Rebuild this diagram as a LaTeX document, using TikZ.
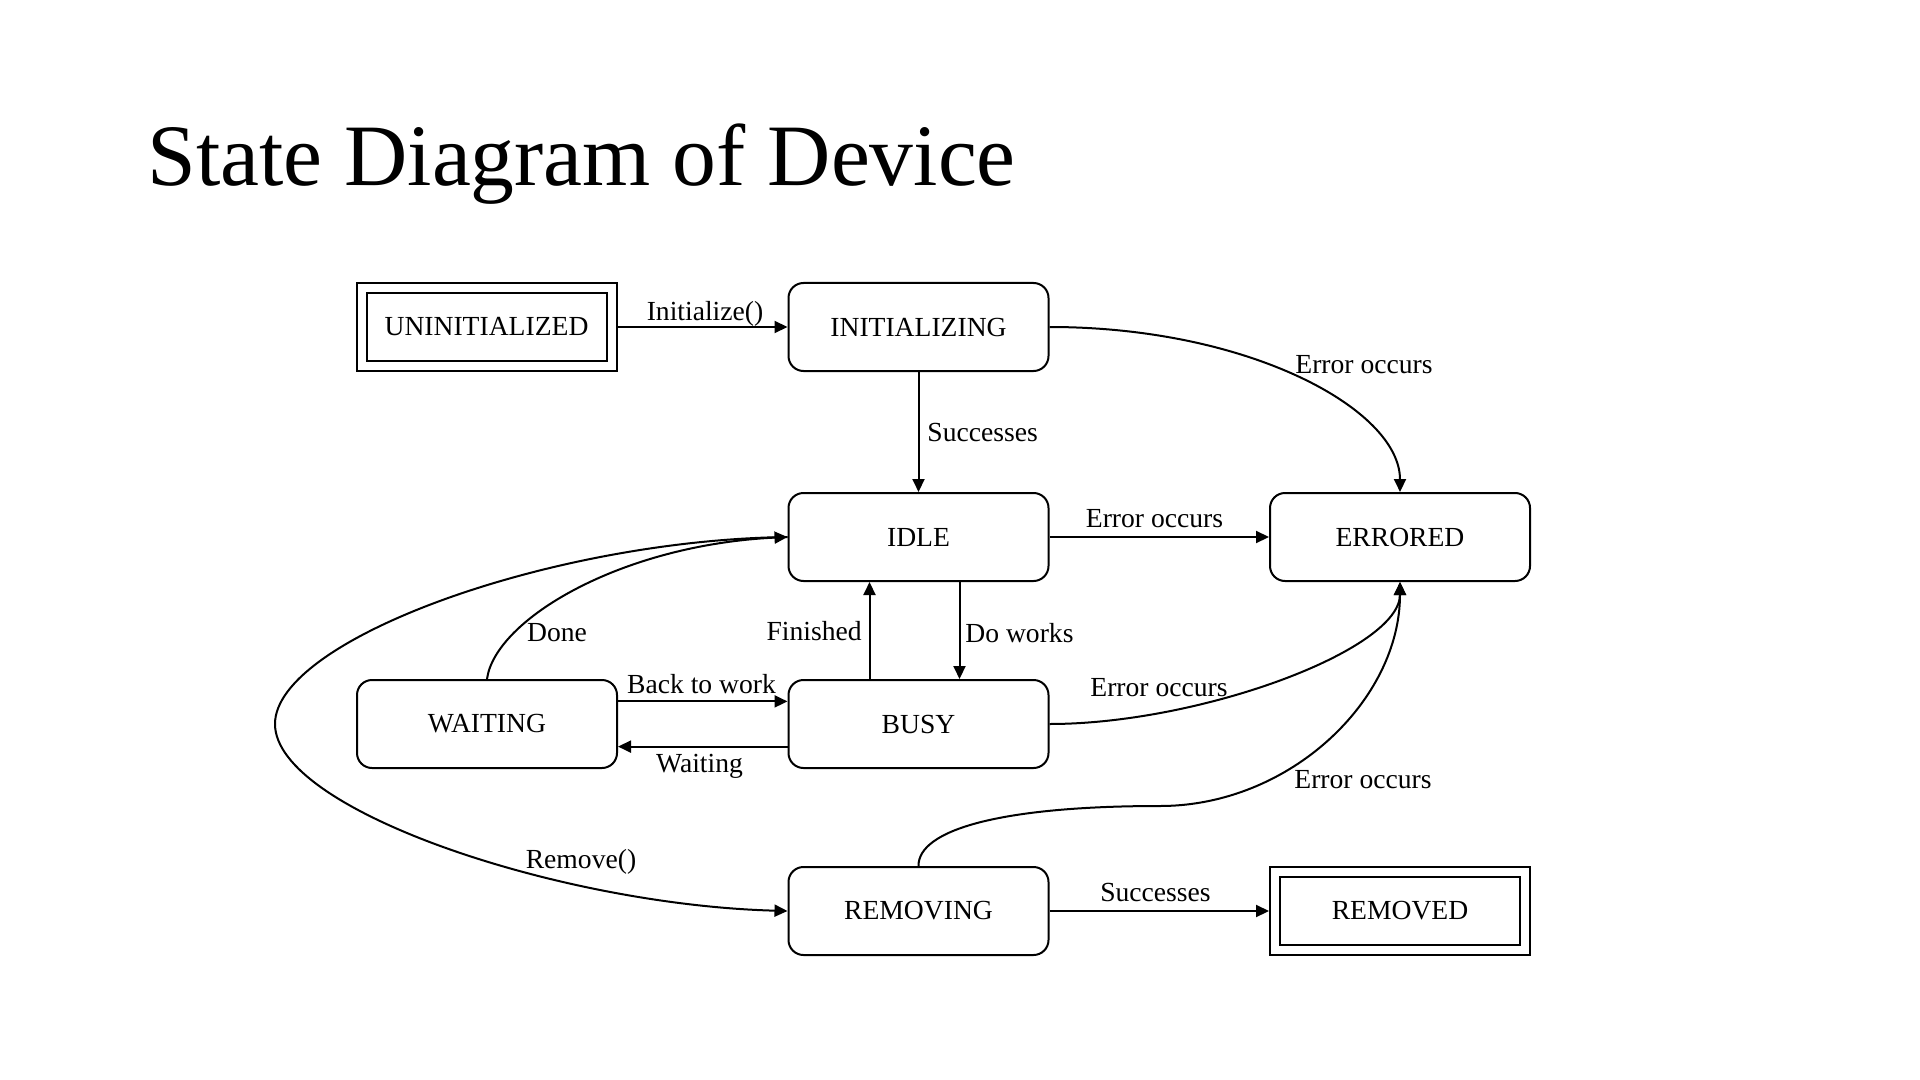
\documentclass[tikz,border=0pt]{standalone}
\usepackage{fontspec}
\setmainfont{Liberation Serif}
\usetikzlibrary{arrows.meta}
\begin{document}
\begin{tikzpicture}[x=0.5pt,y=-0.5pt,
  state/.style={draw, line width=1pt, rounded corners=7.5pt, minimum width=130pt, minimum height=44pt, inner sep=0pt, font=\fontsize{13.8}{16}\selectfont},
  final/.style={draw, line width=1pt, minimum width=130pt, minimum height=44pt, inner sep=0pt, font=\fontsize{13.8}{16}\selectfont},
  lbl/.style={inner sep=0pt, font=\fontsize{13.8}{16}\selectfont},
  edge/.style={line width=1pt, -{Triangle[length=6.5pt,width=6pt]}},
  innerbox/.style={line width=1pt},
]
\useasboundingbox[fill=white] (0,0) rectangle (1920,1080);

\node[anchor=base west, inner sep=0pt, font=\fontsize{43.8}{50}\selectfont] (title) at (147,186) {State Diagram of Device};

\node[final] (uninit) at (486.5,327) {UNINITIALIZED};
\node[state] (init) at (918.5,327) {INITIALIZING};
\node[state] (idle) at (918.5,537) {IDLE};
\node[state] (errored) at (1400,537) {ERRORED};
\node[state] (waiting) at (487,724) {WAITING};
\node[state] (busy) at (918.5,724) {BUSY};
\node[state] (removing) at (918.5,911) {REMOVING};
\node[final] (removed) at (1400,911) {REMOVED};

\draw[innerbox] ([shift={(5.5pt,-5.5pt)}]uninit.north west) rectangle ([shift={(-5.5pt,5.5pt)}]uninit.south east);
\draw[innerbox] ([shift={(5.5pt,-5.5pt)}]removed.north west) rectangle ([shift={(-5.5pt,5.5pt)}]removed.south east);

\coordinate (leftmost) at (275,724);
\coordinate (flat) at (1160,806);

\draw[edge] (uninit.east) -- (init.west);
\draw[edge] (init.south) -- (idle.north);
\draw[edge] (init.east) .. controls (1250,327) and (1400,410) .. (errored.north);
\draw[edge] (idle.east) -- (errored.west);
\draw[edge] ([xshift=20.5pt]idle.south) -- ([xshift=20.5pt]busy.north);
\draw[edge] ([xshift=-24.5pt]busy.north) -- ([xshift=-24.5pt]idle.south);
\draw[edge] ([yshift=11.3pt]waiting.east) -- ([yshift=11.3pt]busy.west);
\draw[edge] ([yshift=-11.3pt]busy.west) -- ([yshift=-11.3pt]waiting.east);
\draw[edge] (waiting.north) .. controls (495,620) and (620,545) .. (idle.west);
\draw[edge] (idle.west) .. controls (550,540) and (275,640) .. (leftmost) .. controls (275,810) and (560,905) .. (removing.west);
\draw[edge] (busy.east) .. controls (1200,724) and (1400,650) .. (errored.south);
\draw[edge] (removing.north) .. controls (918,830) and (1000,806) .. (flat) .. controls (1290,806) and (1400,700) .. (errored.south);
\draw[edge] (removing.east) -- (removed.west);

\node[lbl, anchor=base] (l1) at (705,321) {Initialize()};
\node[lbl, anchor=base west] (l2) at (927,441) {Successes};
\node[lbl, anchor=base west] (l3) at (1295,373) {Error occurs};
\node[lbl, anchor=base] (l4) at (1154.5,527) {Error occurs};
\node[lbl, anchor=base west] (l5) at (965,642) {Do works};
\node[lbl, anchor=base east] (l6) at (862,640) {Finished};
\node[lbl, anchor=base] (l7) at (701.5,693) {Back to work};
\node[lbl, anchor=base] (l8) at (699.5,772) {Waiting};
\node[lbl, anchor=base] (l9) at (557,641) {Done};
\node[lbl, anchor=base west] (l10) at (1090,696) {Error occurs};
\node[lbl, anchor=base west] (l11) at (1294,788) {Error occurs};
\node[lbl, anchor=base] (l12) at (581,868) {Remove()};
\node[lbl, anchor=base] (l13) at (1155.5,901) {Successes};
\end{tikzpicture}
\end{document}
